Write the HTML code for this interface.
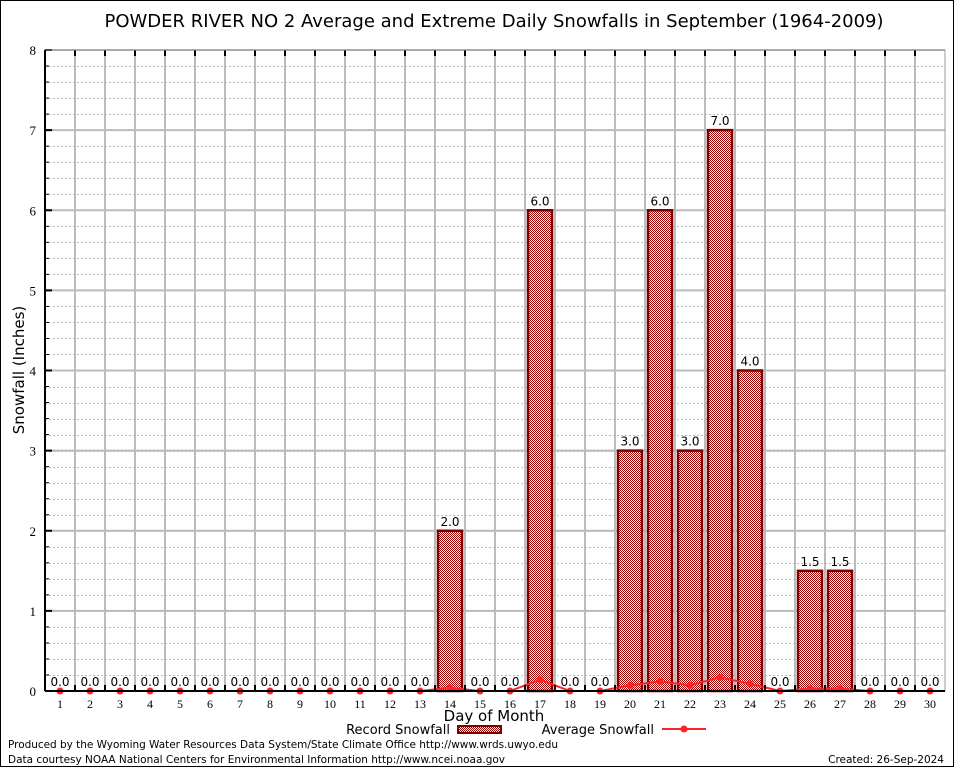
<!DOCTYPE html>
<html><head><meta charset="utf-8"><style>
body{margin:0;background:#fff;}
svg{display:block;font-family:"DejaVu Sans","Liberation Sans",sans-serif;}
</style></head><body>
<svg id="chart" width="954" height="768" viewBox="0 0 954 768">
<defs>
<pattern id="chk" width="2" height="2" patternUnits="userSpaceOnUse">
<rect width="2" height="2" fill="#fff"/><rect width="1" height="1" fill="#a00000"/><rect x="1" y="1" width="1" height="1" fill="#a00000"/>
</pattern>
</defs>
<rect x="0.5" y="0.5" width="953" height="766" fill="none" stroke="#000"/>
<text x="494" y="27" text-anchor="middle" font-size="18">POWDER RIVER NO 2 Average and Extreme Daily Snowfalls in September (1964-2009)</text>
<g id="grid"></g>
<g id="bars"></g>
<g id="avg"></g>
<g id="axes"></g>
<text x="24" y="370" transform="rotate(-90 24 370)" text-anchor="middle" font-size="15">Snowfall (Inches)</text>
<text x="494" y="721" text-anchor="middle" font-size="15">Day of Month</text>
<g>
<text x="450" y="734" text-anchor="end" font-size="13">Record Snowfall</text>
<rect x="458" y="726" width="43" height="7" fill="url(#chk)" stroke="#800000" stroke-width="2"/>
</g>
<g>
<text x="654" y="734" text-anchor="end" font-size="13">Average Snowfall</text>
<line x1="662" y1="729" x2="706" y2="729" stroke="#f22" stroke-width="2"/>
<circle cx="684" cy="729" r="3.5" fill="#f22"/>
</g>
<text x="8" y="748" font-size="10.5" textLength="550">Produced by the Wyoming Water Resources Data System/State Climate Office http://www.wrds.uwyo.edu</text>
<text x="8" y="763" font-size="10.5" textLength="497">Data courtesy NOAA National Centers for Environmental Information http://www.ncei.noaa.gov</text>
<text x="944" y="763" text-anchor="end" font-size="10.5">Created:  26-Sep-2024</text>
</svg>
<script>
const days=[1,2,3,4,5,6,7,8,9,10,11,12,13,14,15,16,17,18,19,20,21,22,23,24,25,26,27,28,29,30];
const recordSnow=[0,0,0,0,0,0,0,0,0,0,0,0,0,2,0,0,6,0,0,3,6,3,7,4,0,1.5,1.5,0,0,0];
const avgSnow=[0,0,0,0,0,0,0,0,0,0,0,0,0,0.04,0,0,0.14,0,0,0.07,0.12,0.07,0.17,0.09,0,0.03,0.03,0,0,0];
const yTicks=[0,1,2,3,4,5,6,7,8];
const NS='http://www.w3.org/2000/svg';
const L=45,R=945,T=50,B=691,yMax=8;
const slot=(R-L)/days.length;
const xs=d=>L+slot*(d-0.5);
const ys=v=>B-(v/yMax)*(B-T);
function mk(tag,attrs,parent,txt){const e=document.createElementNS(NS,tag);for(const k in attrs)e.setAttribute(k,attrs[k]);if(txt!==undefined)e.textContent=txt;parent.appendChild(e);return e;}
const grid=document.getElementById('grid'),bars=document.getElementById('bars'),avg=document.getElementById('avg'),axes=document.getElementById('axes');
for(let v=0;v<yMax;v+=0.2){const y=Math.round(ys(v))+0.5;const e=mk('line',{x1:L,x2:R,y1:y,y2:y,stroke:'#bbb','stroke-dasharray':'2,2','stroke-width':1},grid);

}
yTicks.forEach(t=>{const y=ys(t);const e=mk('line',{x1:L,x2:R,y1:y,y2:y,stroke:'#bbb','stroke-width':2},grid);


const lb=mk('text',{x:36,y:y+5,'text-anchor':'end','font-size':13,'font-family':'"Liberation Serif",serif'},axes,String(t));


mk('line',{x1:L,x2:L+7,y1:y,y2:y,stroke:'#000','stroke-width':2},axes);
for(let m=1;m<5&&t<yMax;m++){const yy=ys(t+m*0.2);mk('line',{x1:L,x2:L+4,y1:yy,y2:yy,stroke:'#000'},axes);}
});
for(let i=1;i<days.length;i++){const x=L+slot*i;const e=mk('line',{x1:x,x2:x,y1:T,y2:B,stroke:'#bbb','stroke-width':2},grid);


mk('line',{x1:x,x2:x,y1:T,y2:T+6,stroke:'#000','stroke-width':2},axes);
mk('line',{x1:x,x2:x,y1:B,y2:B-6,stroke:'#000','stroke-width':2},axes);}
mk('rect',{x:L,y:T,width:R-L,height:B-T,fill:'none',stroke:'#999','stroke-width':1},axes);
mk('line',{x1:L,x2:R,y1:B,y2:B,stroke:'#000','stroke-width':2},axes);
mk('line',{x1:L,x2:L,y1:T,y2:B,stroke:'#000','stroke-width':2},axes);
days.forEach((d,i)=>{const x=xs(d);const v=recordSnow[i];
if(v>0){const b=mk('rect',{x:x-12,y:ys(v),width:24,height:B-ys(v),fill:'url(#chk)',stroke:'#800000','stroke-width':2.5},bars);

}
const lb=mk('text',{x:x,y:ys(v)-5,'text-anchor':'middle','font-size':12},bars,v.toFixed(1));


const xl=mk('text',{x:x,y:B+17,'text-anchor':'middle','font-size':12,'font-family':'"Liberation Serif",serif'},axes,String(d));


});
const pts=days.map((d,i)=>xs(d)+','+ys(avgSnow[i])).join(' ');
const pl=mk('polyline',{points:pts,fill:'none',stroke:'#f22','stroke-width':2},avg);


days.forEach((d,i)=>{const c=mk('circle',{cx:xs(d),cy:ys(avgSnow[i]),r:3.5,fill:'#f22'},avg);

});
</script>
</body></html>
